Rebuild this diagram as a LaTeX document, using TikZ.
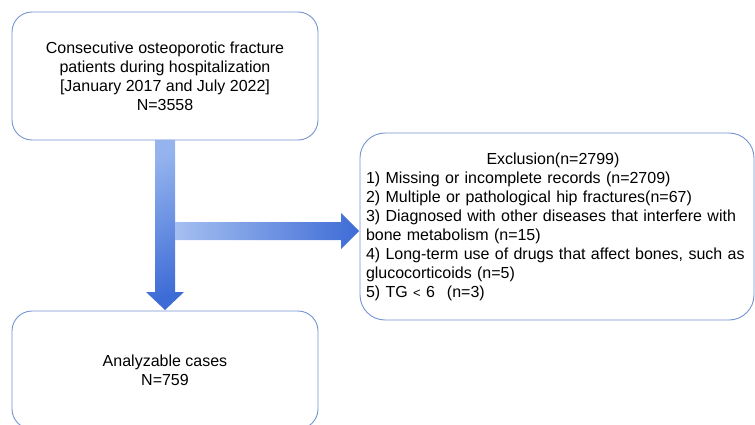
\documentclass[tikz,border=0pt]{standalone}
\usepackage{fontspec}
\setmainfont{Liberation Sans}
\definecolor{edgeblue}{HTML}{7393D3}
\definecolor{lightarrow}{HTML}{95B4EE}
\definecolor{darkarrow}{HTML}{3E6CD6}
\begin{document}
\begin{tikzpicture}[x=1pt,y=-1pt,
  box/.style={draw=edgeblue,line width=0.9pt,rounded corners=20pt,fill=white,inner sep=0pt},
  txt/.style={font=\fontsize{16}{19}\selectfont,align=center}]
\useasboundingbox (0,0) rectangle (755,425);
\clip (0,0) rectangle (755,425);
\node[box,minimum width=306pt,minimum height=128pt,txt] (top) at (165,76)
  {Consecutive osteoporotic fracture\\patients during hospitalization\\{[January 2017 and July 2022]}\\N=3558};
\node[box,minimum width=306pt,minimum height=118pt,txt] (bot) at (165,370)
  {Analyzable cases\\N=759};
\node[box,rounded corners=25pt,minimum width=394pt,minimum height=187pt,
  font=\fontsize{16}{19}\selectfont,align=left,text width=382pt] (excl) at (557,226.5)
  {\makebox[\linewidth]{Exclusion(n=2799)\hspace{8pt}}\\
   1) Missing or incomplete records (n=2709)\\
   2) Multiple or pathological hip fractures(n=67)\\
   3) Diagnosed with other diseases that interfere with\\
   bone metabolism (n=15)\\
   4) Long-term use of drugs that affect bones, such as\\
   glucocorticoids (n=5)\\
   5) TG {\fontsize{13}{19}\selectfont<} 6\hspace{12pt}(n=3)};
\shade[top color=lightarrow,bottom color=darkarrow,shading angle=20]
  (155,140) -- (175,140) -- (175,292) -- (184,292) -- (165,310) -- (146,292) -- (155,292) -- cycle;
\shade[left color=lightarrow!85!white,right color=darkarrow]
  (175,222) -- (341,222) -- (341,213) -- (359,231) -- (341,249) -- (341,240) -- (175,240) -- cycle;
\end{tikzpicture}
\end{document}
